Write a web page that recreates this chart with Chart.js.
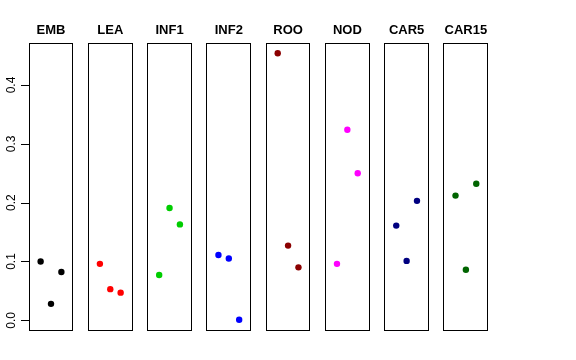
<!DOCTYPE html>
<html><head><meta charset="utf-8">
<script src="https://cdn.jsdelivr.net/npm/chart.js@4/dist/chart.umd.min.js"></script>
<style>
html,body{margin:0;padding:0;background:#fff;}
#wrap{position:relative;width:576px;height:360px;}
#wrap canvas{position:absolute;left:0;top:0;}
</style></head>
<body><div id="wrap"></div>
<script>
const categories = ["EMB","LEA","INF1","INF2","ROO","NOD","CAR5","CAR15"];
const colors = ["#000000","#FF0000","#00CD00","#0000FF","#8B0000","#FF00FF","#000080","#006400"];
const EMB   = [0.100, 0.028, 0.082];
const LEA   = [0.096, 0.053, 0.047];
const INF1  = [0.077, 0.191, 0.163];
const INF2  = [0.111, 0.105, 0.001];
const ROO   = [0.454, 0.127, 0.090];
const NOD   = [0.096, 0.324, 0.250];
const CAR5  = [0.161, 0.101, 0.203];
const CAR15 = [0.212, 0.086, 0.232];
const seriesValues = [EMB, LEA, INF1, INF2, ROO, NOD, CAR5, CAR15];
const yTickValues = [0, 0.1, 0.2, 0.3, 0.4];
const yTickLabels = ["0.0","0.1","0.2","0.3","0.4"];

const W = 576, H = 360;
const firstLeft = 28.6, pitch = 59.27, boxW = 44.8;
const areaTop = 42.5, areaBottom = 331;
const yMin = -0.01816, yMax = 0.47216;
const xMin = -0.16, xMax = 4.16;

const boxPlugin = {
  id: 'boxPlugin',
  afterDraw(chart, args, opts) {
    const ctx = chart.ctx, a = chart.chartArea;
    ctx.save();
    ctx.strokeStyle = '#000';
    ctx.lineWidth = 1;
    const l = Math.round(a.left) + 0.5, r = Math.round(a.right) - 0.5;
    const t = Math.round(a.top) + 0.5, b = Math.round(a.bottom) - 0.5;
    ctx.strokeRect(l, t, r - l, b - t);
    ctx.fillStyle = '#000';
    ctx.font = 'bold 13px "Liberation Sans", Arial, sans-serif';
    ctx.textAlign = 'center';
    ctx.textBaseline = 'alphabetic';
    ctx.fillText(opts.title, (a.left + a.right) / 2, 33.5);
    if (opts.axis) {
      const ys = chart.scales.y;
      ctx.beginPath();
      yTickValues.forEach(v => {
        const py = Math.round(ys.getPixelForValue(v)) + 0.5;
        ctx.moveTo(21, py);
        ctx.lineTo(l, py);
      });
      ctx.stroke();
      ctx.font = '12px "Liberation Sans", Arial, sans-serif';
      yTickValues.forEach((v, i) => {
        const py = ys.getPixelForValue(v);
        ctx.save();
        ctx.translate(14.8, py);
        ctx.rotate(-Math.PI / 2);
        ctx.fillText(yTickLabels[i], 0, 0);
        ctx.restore();
      });
    }
    ctx.restore();
  }
};

const wrap = document.getElementById('wrap');
categories.forEach((cat, i) => {
  const cv = document.createElement('canvas');
  cv.width = W; cv.height = H;
  cv.style.width = W + 'px'; cv.style.height = H + 'px';
  wrap.appendChild(cv);
  const left = firstLeft + i * pitch;
  const vals = seriesValues[i];
  new Chart(cv, {
    type: 'scatter',
    data: {
      datasets: [{
        data: vals.map((v, j) => ({x: j + 1, y: v})),
        backgroundColor: colors[i],
        borderWidth: 0,
        pointRadius: 3.2,
        pointHoverRadius: 3.2
      }]
    },
    options: {
      responsive: false,
      animation: false,
      devicePixelRatio: 1,
      layout: { padding: { left: left, right: W - (left + boxW), top: areaTop, bottom: H - areaBottom } },
      scales: {
        x: { type: 'linear', display: false, min: xMin, max: xMax },
        y: { type: 'linear', display: false, min: yMin, max: yMax }
      },
      plugins: {
        legend: { display: false },
        tooltip: { enabled: false },
        title: { display: false },
        boxPlugin: { title: cat, axis: i === 0 }
      },
      events: []
    },
    plugins: [boxPlugin]
  });
});
</script></body></html>
